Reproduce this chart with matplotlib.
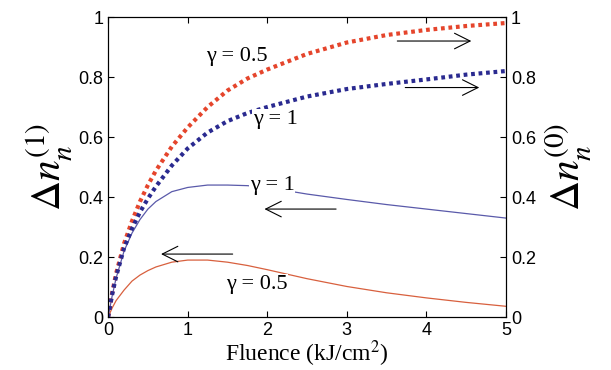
import matplotlib.pyplot as plt

# Values (fluence in kJ/cm^2)
fluence = [0, 0.05, 0.1, 0.2, 0.3, 0.4, 0.5, 0.6, 0.8, 1, 1.25, 1.5, 1.75, 2,
           2.5, 3, 3.5, 4, 4.5, 5]

# right axis: Delta n^(0)
n0_g05 = [0, 0.08, 0.145, 0.245, 0.32, 0.385, 0.44, 0.488, 0.568, 0.632, 0.70, 0.755,
          0.795, 0.825, 0.877, 0.915, 0.94, 0.957, 0.97, 0.98]
n0_g1 = [0, 0.075, 0.135, 0.23, 0.295, 0.35, 0.395, 0.435, 0.505, 0.562, 0.615, 0.653,
         0.68, 0.70, 0.735, 0.76, 0.777, 0.792, 0.808, 0.82]

# left axis: Delta n^(1)
n1_g1 = [0, 0.07, 0.13, 0.22, 0.28, 0.325, 0.36, 0.385, 0.418, 0.432, 0.44, 0.44,
         0.438, 0.432, 0.41, 0.392, 0.375, 0.36, 0.345, 0.33]
n1_g05 = [0, 0.03, 0.055, 0.09, 0.12, 0.14, 0.155, 0.167, 0.183, 0.19, 0.19, 0.183,
          0.172, 0.158, 0.128, 0.102, 0.081, 0.064, 0.049, 0.036]

plt.rcParams['mathtext.fontset'] = 'stix'
serif = 'Liberation Serif'
sans = 'Liberation Sans'

fig = plt.figure(figsize=(6.11, 3.70), dpi=100)
ax1 = fig.add_axes([0.177, 0.143, 0.651, 0.811])
ax2 = ax1.twinx()

red = '#e5452c'
blue = '#2a2a90'

ax2.plot(fluence, n0_g05, color=red, lw=3, linestyle=(0, (0.9, 0.9)))
ax2.plot(fluence, n0_g1, color=blue, lw=3, linestyle=(0, (0.9, 0.9)))
ax1.plot(fluence, n1_g1, color='#5a5aaa', lw=0.9)
ax1.plot(fluence, n1_g05, color='#d8603e', lw=0.9)

for ax in (ax1, ax2):
    ax.set_xlim(0, 5)
    ax.set_ylim(0, 1)
    ax.set_yticks([0, 0.2, 0.4, 0.6, 0.8, 1])
    ax.set_yticklabels(['0', '0.2', '0.4', '0.6', '0.8', '1'])
    ax.tick_params(direction='in', length=4, width=0.8, labelsize=13)
    for lab in ax.get_yticklabels():
        lab.set_fontfamily(sans)
    for s in ax.spines.values():
        s.set_linewidth(0.8)
ax1.tick_params(top=True)
ax1.set_xticks([0, 1, 2, 3, 4, 5])
for lab in ax1.get_xticklabels():
    lab.set_fontfamily(sans)

ax1.set_xlabel('Fluence (kJ/cm$^2$)', fontsize=17, family=serif, labelpad=0)
ax1.set_ylabel(r'$\Delta n_n^{(1)}$', fontsize=30, labelpad=2)
ax2.set_ylabel(r'$\Delta n_n^{(0)}$', fontsize=30, labelpad=6)

box = dict(facecolor='white', edgecolor='none', pad=0.5)
ax2.text(1.62, 0.87, 'γ = 0.5', fontsize=16, family=serif, ha='center', va='center', bbox=box)
ax2.text(2.1, 0.66, 'γ = 1', fontsize=16, family=serif, ha='center', va='center', bbox=box)
ax2.text(2.06, 0.44, 'γ = 1', fontsize=16, family=serif, ha='center', va='center', bbox=box)
ax2.text(1.87, 0.11, 'γ = 0.5', fontsize=16, family=serif, ha='center', va='center', bbox=box)

arr = dict(arrowstyle='->', color='black', lw=0.8, mutation_scale=28)
ax2.annotate('', xy=(4.6, 0.92), xytext=(3.6, 0.92), arrowprops=arr)
ax2.annotate('', xy=(4.7, 0.765), xytext=(3.7, 0.765), arrowprops=arr)
ax2.annotate('', xy=(1.93, 0.36), xytext=(2.9, 0.36), arrowprops=arr)
ax2.annotate('', xy=(0.63, 0.21), xytext=(1.6, 0.21), arrowprops=arr)

fig.savefig('out.png', dpi=100)
